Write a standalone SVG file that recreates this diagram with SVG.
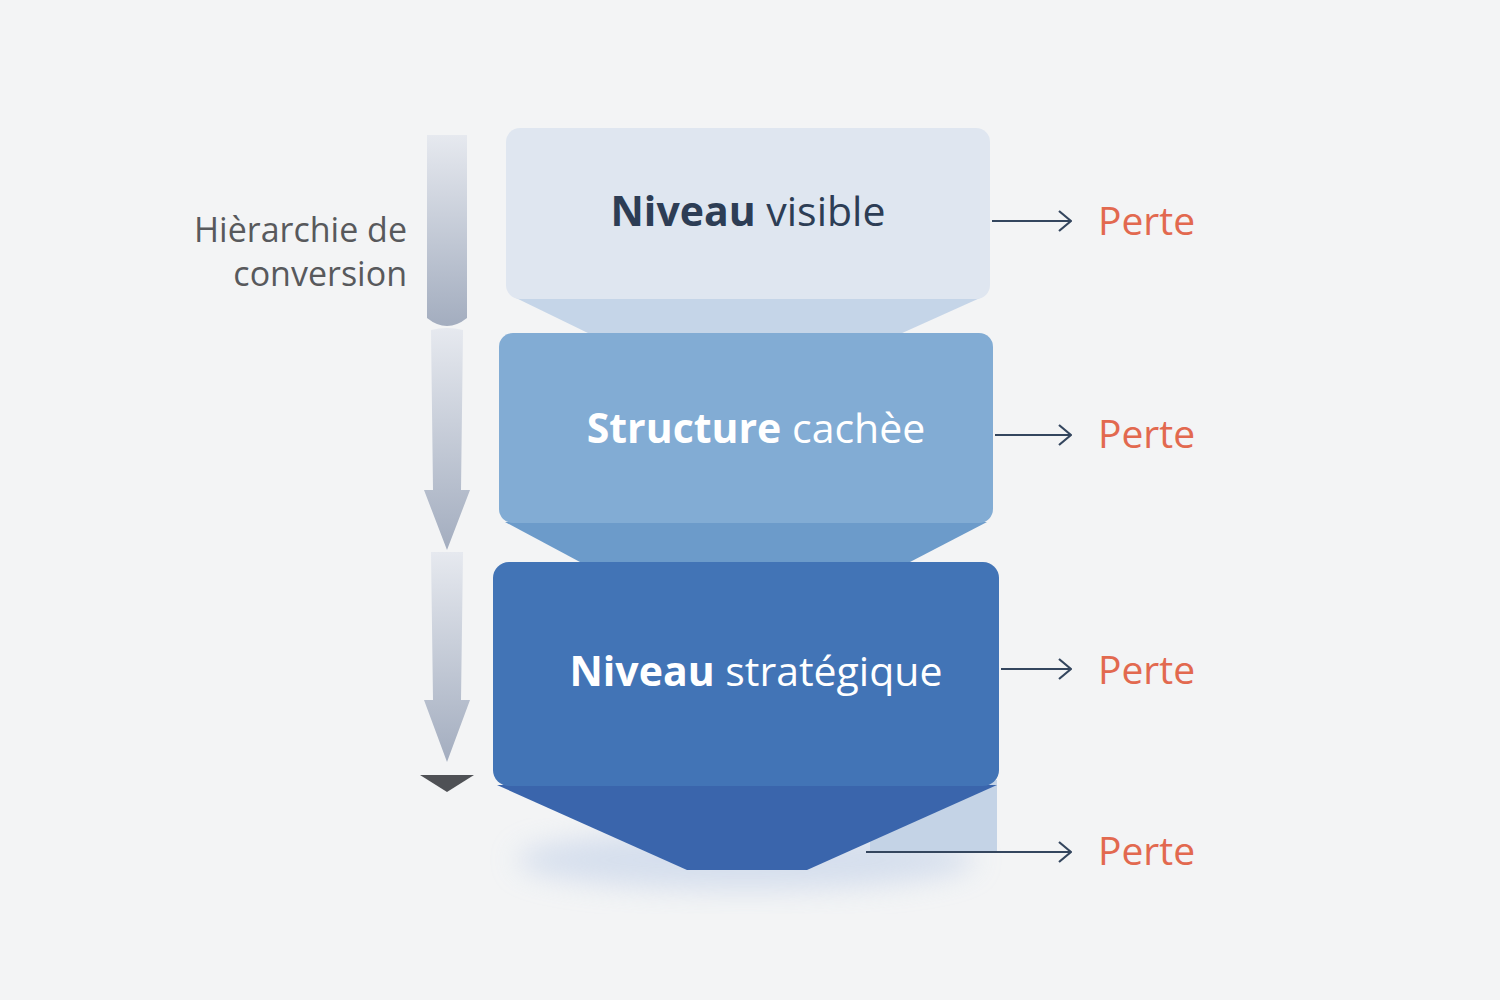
<svg xmlns="http://www.w3.org/2000/svg" width="1500" height="1000" viewBox="0 0 1500 1000">
<defs>
<style>
.perte{font-family:"Open Sans","Liberation Sans",sans-serif;font-size:39px;fill:#e2694f}
.conn{stroke:#34465e;stroke-width:2.2;fill:none}
.lbl{font-family:"Open Sans","Liberation Sans",sans-serif;font-size:41px;text-anchor:middle}
.side{font-family:"Open Sans","Liberation Sans",sans-serif;font-size:34px;fill:#58595c;text-anchor:end}
</style>
<linearGradient id="ag" x1="0" y1="0" x2="0" y2="1"><stop offset="0" stop-color="#e6e9ef"/><stop offset="1" stop-color="#a3adbf"/></linearGradient>
<marker id="ah" viewBox="0 0 14 22" refX="13" refY="11" markerWidth="14" markerHeight="22" markerUnits="userSpaceOnUse" orient="auto"><path d="M1 1 L13 11 L1 21" fill="none" stroke="#34465e" stroke-width="2.2"/></marker>
<filter id="sh" x="-20%" y="-20%" width="140%" height="160%"><feGaussianBlur stdDeviation="14"/></filter>
</defs>
<rect width="1500" height="1000" fill="#f3f4f5"/>
<ellipse cx="746" cy="860" rx="230" ry="30" fill="#c9d6ea" filter="url(#sh)" opacity="0.7"/>
<g id="hierarchy">
<path d="M427 135 H467 V318 Q447 334 427 318 Z" fill="url(#ag)"/>
<path d="M431 330 Q447 326 463 330 L461 490 L470 490 L447 550 L424 490 L433 490 Z" fill="url(#ag)"/>
<path d="M431 552 H463 L461 700 L470 700 L447 762 L424 700 L433 700 Z" fill="url(#ag)"/>
<path d="M420 775 H474 L447 792 Z" fill="#4f5155"/>
<text class="side" x="407" y="242">Hièrarchie de</text>
<text class="side" x="407" y="286">conversion</text>
</g>
<g id="stage1">
<path d="M516 298 H980 L900 334 H590 Z" fill="#c5d5e8"/>
<rect x="506" y="128" width="484" height="171" rx="14" fill="#dfe6f0"/>
<text class="lbl" x="748" y="226" fill="#2d3d55"><tspan font-weight="bold">Niveau</tspan> visible</text>
</g>
<g id="stage2">
<path d="M505 522 H987 L910 562 H580 Z" fill="#6c9bca"/>
<rect x="499" y="333" width="494" height="190" rx="14" fill="#82acd4"/>
<text class="lbl" x="756" y="443" fill="#ffffff"><tspan font-weight="bold">Structure</tspan> cachèe</text>
</g>
<g id="stage3">
<rect x="870" y="780" width="127" height="72" fill="#c4d3e6"/>
<path d="M497 785 H997 L807 870 H687 Z" fill="#3a65ac"/>
<rect x="493" y="562" width="506" height="224" rx="16" fill="#4274b6"/>
<text class="lbl" x="756" y="686" fill="#ffffff"><tspan font-weight="bold">Niveau</tspan> stratégique</text>
</g>
<g id="connectors">
<line class="conn" x1="992" y1="221" x2="1071" y2="221" marker-end="url(#ah)"/>
<line class="conn" x1="995" y1="435" x2="1071" y2="435" marker-end="url(#ah)"/>
<line class="conn" x1="1001" y1="669" x2="1071" y2="669" marker-end="url(#ah)"/>
<line class="conn" x1="866" y1="852" x2="1071" y2="852" marker-end="url(#ah)"/>
</g>
<g id="losses">
<text class="perte" x="1098" y="235">Perte</text>
<text class="perte" x="1098" y="448">Perte</text>
<text class="perte" x="1098" y="684">Perte</text>
<text class="perte" x="1098" y="865">Perte</text>
</g>
</svg>
